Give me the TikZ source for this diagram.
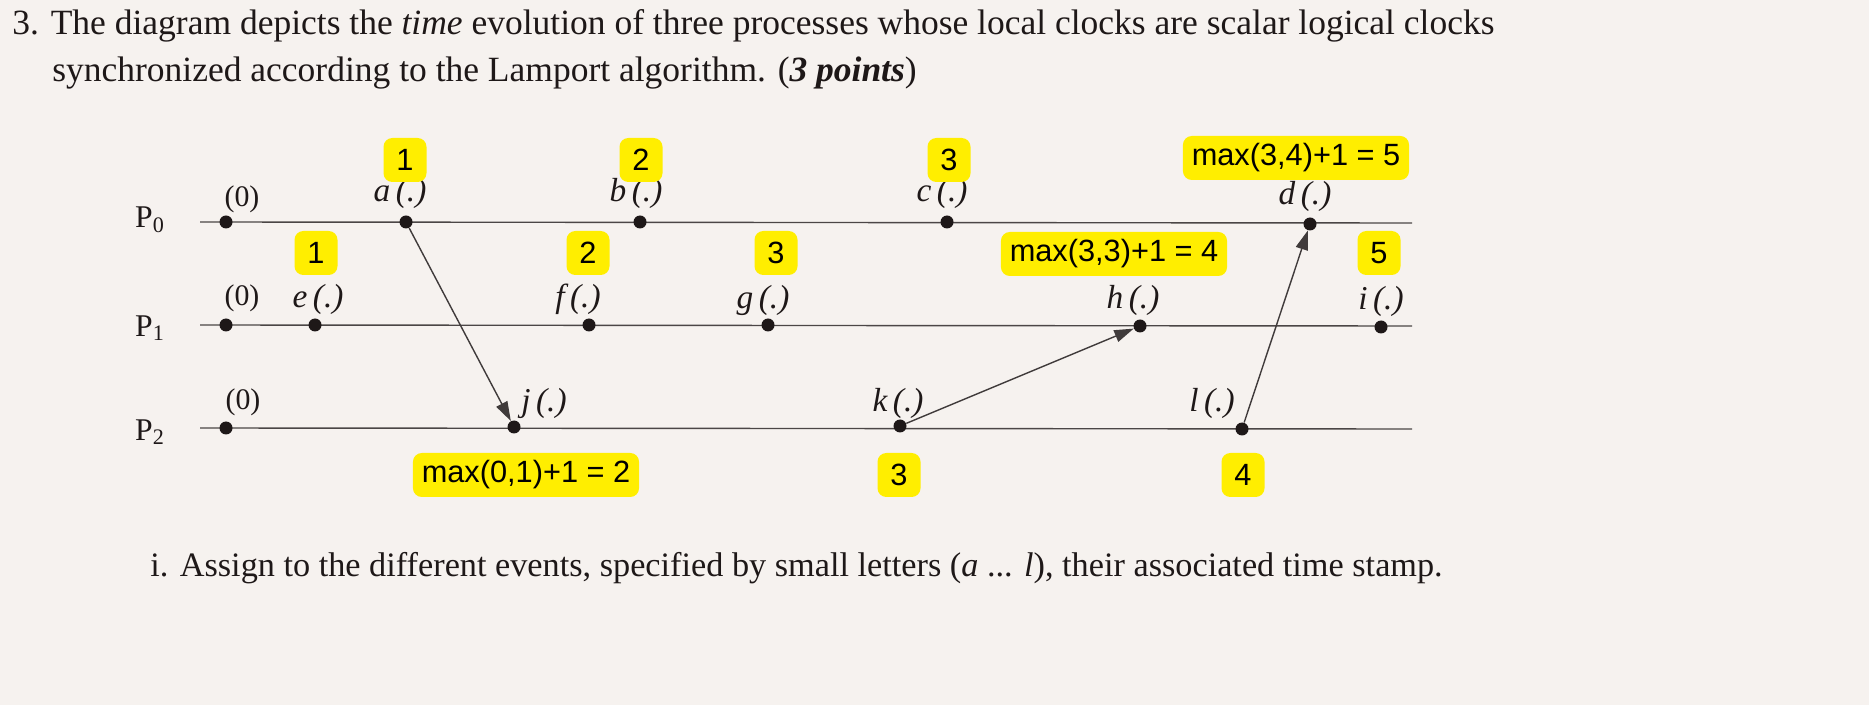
\documentclass[tikz,border=0pt]{standalone}
\usepackage{fontspec}
\setmainfont{Liberation Serif}
\newfontfamily\boxfont{Liberation Sans}
\usetikzlibrary{arrows.meta}
\definecolor{paper}{RGB}{246,242,239}
\definecolor{hl}{RGB}{255,238,0}
\definecolor{ink}{RGB}{30,24,24}
\tikzset{
  tline/.style={draw=ink!80, line width=0.8pt},
  ev/.style={circle, fill=ink, inner sep=0pt, minimum size=13*0.02cm},
  msg/.style={draw=ink!85, line width=0.8pt, -{Triangle[length=11pt,width=7pt]}},
  lab/.style={font=\fontsize{19}{22}\selectfont\itshape, inner sep=0pt, text=ink},
  zero/.style={font=\fontsize{17}{20}\selectfont, inner sep=0pt, text=ink},
  proc/.style={font=\fontsize{18}{21}\selectfont, inner sep=0pt, text=ink},
  ans/.style={fill=hl, rounded corners=5pt, font=\boxfont\fontsize{17.5}{20}\selectfont, text=black,
    inner xsep=5pt, minimum height=44*0.02cm, minimum width=43*0.02cm},
  para/.style={font=\fontsize{20.2}{24}\selectfont, inner sep=0pt, anchor=base west, text=ink}
}
\begin{document}
\begin{tikzpicture}[x=0.02cm,y=-0.02cm]
\fill[paper] (0,0) rectangle (1869,705);
\useasboundingbox (0,0) rectangle (1869,705);

\node[para] (t1) at (12,35) {3. The diagram depicts the \textit{time} evolution of three processes whose local clocks are scalar logical clocks};
\node[para] (t2) at (52,82) {synchronized according to the Lamport algorithm. (\textit{\textbf{3 points}})};
\node[para, font=\fontsize{19.5}{24}\selectfont] (t3) at (150,576) {i. Assign to the different events, specified by small letters (\textit{a} ... \textit{l}), their associated time stamp.};

% process lines
\coordinate (p0s) at (200,222); \coordinate (p0e) at (1412,223);
\coordinate (p1s) at (200,325); \coordinate (p1e) at (1412,326);
\coordinate (p2s) at (200,428); \coordinate (p2e) at (1412,429);
\draw[tline] (p0s) -- (p0e);
\draw[tline] (p1s) -- (p1e);
\draw[tline] (p2s) -- (p2e);

\node[proc] (P0) at (150,220) {P\textsubscript{0}};
\node[proc] (P1) at (150,328) {P\textsubscript{1}};
\node[proc] (P2) at (150,432) {P\textsubscript{2}};

% events
\node[ev] (z0) at (226,222) {};
\node[ev] (a) at (406,222) {};
\node[ev] (b) at (640,222) {};
\node[ev] (c) at (947,222) {};
\node[ev] (d) at (1310,224) {};
\node[ev] (z1) at (226,325) {};
\node[ev] (e) at (315,325) {};
\node[ev] (f) at (589,325) {};
\node[ev] (g) at (768,325) {};
\node[ev] (h) at (1140,326) {};
\node[ev] (i) at (1381,327) {};
\node[ev] (z2) at (226,428) {};
\node[ev] (j) at (514,427) {};
\node[ev] (k) at (900,426) {};
\node[ev] (l) at (1242,429) {};

% event labels
\node[zero] (lz0) at (242,199) {(0)};
\node[zero] (lz1) at (242,298) {(0)};
\node[zero] (lz2) at (243,402) {(0)};
\node[lab] (la) at (400,193) {a\,(.)};
\node[lab] (lb) at (636,193) {b\,(.)};
\node[lab] (lc) at (942,193) {c\,(.)};
\node[lab] (ld) at (1305,196) {d\,(.)};
\node[lab] (le) at (318,299) {e\,(.)};
\node[lab] (lf) at (578,299) {f\,(.)};
\node[lab] (lg) at (763,300) {g\,(.)};
\node[lab] (lh) at (1133,300) {h\,(.)};
\node[lab] (li) at (1381,301) {i\,(.)};
\node[lab] (lj) at (544,403) {j\,(.)};
\node[lab] (lk) at (898,403) {k\,(.)};
\node[lab] (ll) at (1212,403) {l\,(.)};

% messages
\draw[msg] (a) -- (j);
\draw[msg] (k) -- (h);
\draw[msg] (l) -- (d);

% answers
\node[ans] (xa) at (405,160) {1};
\node[ans] (xb) at (641,160) {2};
\node[ans] (xc) at (949,160) {3};
\node[ans] (xd) at (1296,158) {max(3,4)+1 = 5};
\node[ans] (xe) at (316,253) {1};
\node[ans] (xf) at (588,253) {2};
\node[ans] (xg) at (776,253) {3};
\node[ans] (xh) at (1114,254) {max(3,3)+1 = 4};
\node[ans] (xi) at (1379,253) {5};
\node[ans] (xj) at (526,475) {max(0,1)+1 = 2};
\node[ans] (xk) at (899,475) {3};
\node[ans] (xl) at (1243,475) {4};
\end{tikzpicture}
\end{document}
